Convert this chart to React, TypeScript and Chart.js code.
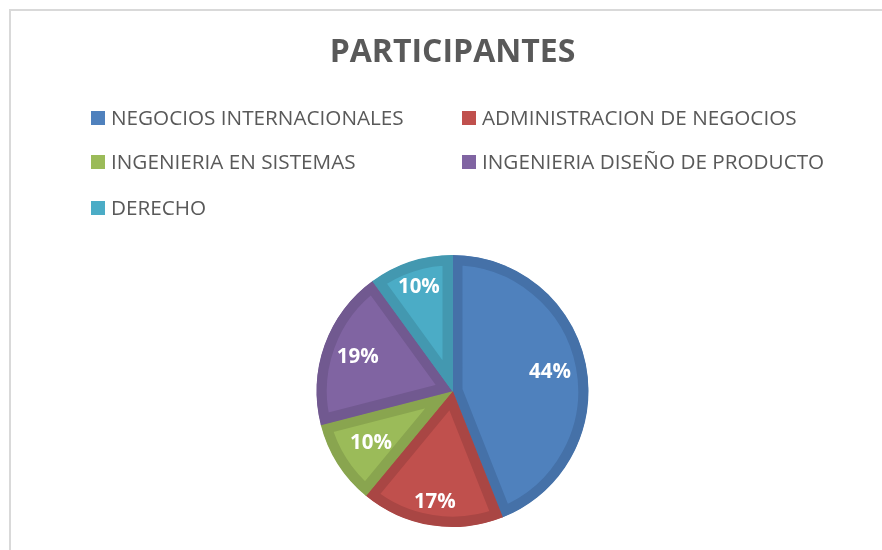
import React, { useEffect, useRef } from "react";
import { Chart, registerables } from "chart.js";

Chart.register(...registerables);

const categories = [
  "NEGOCIOS INTERNACIONALES",
  "ADMINISTRACION DE NEGOCIOS",
  "INGENIERIA EN SISTEMAS",
  "INGENIERIA DISEÑO DE PRODUCTO",
  "DERECHO",
];
const percentages = [44, 17, 10, 19, 10];
const fillColors = ["#4f81bd", "#c0504d", "#9bbb59", "#8064a2", "#4bacc6"];
const borderColors = ["#4571a8", "#a94644", "#89a54f", "#715990", "#4398b0"];
const chartTitle = "PARTICIPANTES";

const FONT = "'Open Sans', 'DejaVu Sans', sans-serif";

const labelPlugin = {
  id: "sliceLabels",
  afterDatasetsDraw(chart: any, _args: any, opts: any) {
    const ctx = chart.ctx;
    const meta = chart.getDatasetMeta(0);
    const ds = chart.data.datasets[0];
    ctx.save();
    ctx.fillStyle = "#ffffff";
    ctx.font = `bold 20.5px ${FONT}`;
    ctx.textAlign = "center";
    ctx.textBaseline = "middle";
    meta.data.forEach((arc: any, i: number) => {
      const { x, y, startAngle, endAngle, outerRadius } = arc.getProps(
        ["x", "y", "startAngle", "endAngle", "outerRadius"],
        true
      );
      const mid = (startAngle + endAngle) / 2;
      const f = opts.factors[i];
      const px = x + Math.cos(mid) * outerRadius * f;
      const py = y + Math.sin(mid) * outerRadius * f;
      ctx.fillText(`${ds.data[i]}%`, px, py);
    });
    ctx.restore();
  },
};

const legendPlugin = {
  id: "gridLegend",
  afterDraw(chart: any, _args: any, opts: any) {
    const ctx = chart.ctx;
    const labels: string[] = chart.data.labels;
    const ds = chart.data.datasets[0];
    ctx.save();
    ctx.font = `20.7px ${FONT}`;
    ctx.textBaseline = "middle";
    ctx.textAlign = "left";
    labels.forEach((lab, i) => {
      const col = i % 2;
      const row = Math.floor(i / 2);
      const bx = opts.colX[col];
      const cy = opts.rowY[row];
      ctx.fillStyle = ds.backgroundColor[i];
      ctx.fillRect(bx, cy - 7, 14, 14);
      ctx.fillStyle = "#595959";
      ctx.fillText(lab, bx + 20, cy + 1);
    });
    ctx.restore();
  },
};

export default function App() {
  const ref = useRef<HTMLCanvasElement | null>(null);
  useEffect(() => {
    if (!ref.current) return;
    const chart = new Chart(ref.current, {
      type: "pie",
      data: {
        labels: categories,
        datasets: [
          {
            data: percentages,
            backgroundColor: fillColors,
            borderColor: borderColors,
            borderWidth: 10,
            borderAlign: "inner",
            borderJoinStyle: "miter",
            hoverOffset: 0,
            offset: 0,
          } as any,
        ],
      },
      options: {
        animation: false,
        responsive: false,
        events: [],
        layout: { padding: { top: 0, left: 23, right: 0, bottom: 23 } },
        plugins: {
          legend: { display: false },
          tooltip: { enabled: false },
          title: {
            display: true,
            text: chartTitle,
            color: "#595959",
            font: { family: FONT, size: 32, weight: "bold", lineHeight: 1.2 },
            padding: { top: 34, bottom: 182.6 },
          },
          sliceLabels: { factors: [0.73, 0.83, 0.71, 0.74, 0.8] },
          gridLegend: { colX: [91, 462], rowY: [118, 162, 208] },
        } as any,
      },
      plugins: [labelPlugin, legendPlugin],
    });
    return () => chart.destroy();
  }, []);

  return (
    <div
      style={{
        position: "fixed",
        left: 0,
        top: 0,
        width: 882,
        height: 550,
        overflow: "hidden",
        background: "#ffffff",
      }}
    >
      <div
        style={{
          position: "absolute",
          left: 9,
          top: 9,
          width: 1000,
          height: 1000,
          border: "2px solid #d9d9d9",
        }}
      />
      <canvas
        ref={ref}
        width={882}
        height={550}
        style={{ position: "absolute", left: 0, top: 0, width: 882, height: 550 }}
      />
    </div>
  );
}
